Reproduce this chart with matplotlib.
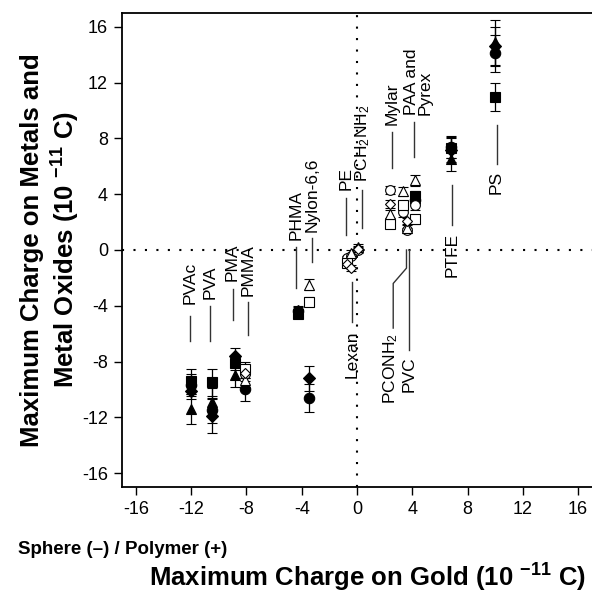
import numpy as np
import matplotlib
matplotlib.use('Agg')
import matplotlib.pyplot as plt

plt.rcParams['font.family'] = ['Liberation Sans', 'DejaVu Sans']
plt.rcParams['mathtext.fontset'] = 'custom'
plt.rcParams['mathtext.rm'] = 'Liberation Sans'
plt.rcParams['mathtext.it'] = 'Liberation Sans:italic'
plt.rcParams['mathtext.bf'] = 'Liberation Sans:bold'
plt.rcParams['axes.unicode_minus'] = False

nan = np.nan

# polymers and the charge measured on the gold sphere (10^-11 C)
polymers = ['PVAc', 'PVA', 'PMA', 'PMMA', 'PHMA', 'Nylon-6,6', 'Lexan', 'PE',
            'PCH2NH2', 'Mylar', 'PCONH2', 'PVC', 'PAA and Pyrex', 'PTFE', 'PS']
gold_charge = [-12.0, -10.5, -8.8, -8.1, -4.3, -3.5, -0.7, -0.4,
               0.1, 2.4, 3.3, 3.6, 4.2, 6.8, 10.0]

# charge on the other spheres, one list per sphere material
filled_circle = [-9.7, -11.5, nan, -10.0, -4.4, -10.6, nan, nan,
                 nan, nan, nan, nan, 3.6, 7.4, 14.1]
filled_circle_err = [0.8, 0.9, 0, 0.8, 0.3, 1.0, 0, 0, 0, 0, 0, 0, 0.3, 0.8, 1.3]
filled_square = [-9.4, -9.5, -8.1, nan, -4.6, nan, nan, nan,
                 nan, nan, nan, nan, 3.9, 7.3, 11.0]
filled_square_err = [0.9, 1.0, 0.5, 0, 0.3, 0, 0, 0, 0, 0, 0, 0, 0.3, 0.7, 1.0]
filled_triangle = [-11.4, -10.9, -9.0, nan, -4.3, nan, nan, nan,
                   nan, nan, nan, nan, 3.7, 6.5, 14.9]
filled_triangle_err = [1.1, 1.0, 0.8, 0, 0.3, 0, 0, 0, 0, 0, 0, 0, 0.3, 0.8, 1.6]
filled_diamond = [-10.1, -11.9, -7.6, nan, nan, -9.2, nan, nan,
                  nan, nan, nan, nan, nan, 7.2, 14.6]
filled_diamond_err = [0.6, 1.2, 0.6, 0, 0, 0.9, 0, 0, 0, 0, 0, 0, 0, 0.9, 1.4]
open_circle = [nan, nan, nan, -8.9, nan, nan, -0.6, -0.4,
               0.0, 4.3, 2.7, 1.4, 3.2, nan, nan]
open_circle_err = [0, 0, 0, 0.5, 0, 0, 0.2, 0.2, 0.2, 0.3, 0.3, 0.2, 0.3, 0, 0]
open_square = [nan, nan, nan, -8.5, nan, -3.7, -0.9, nan,
               nan, 1.9, 3.2, nan, 2.2, nan, nan]
open_square_err = [0, 0, 0, 0.5, 0, 0.3, 0.2, 0, 0, 0.3, 0.3, 0, 0.3, 0, 0]
open_triangle = [nan, nan, nan, -9.3, nan, -2.5, nan, -0.2,
                 0.2, 2.6, 4.2, 1.6, 5.0, nan, nan]
open_triangle_err = [0, 0, 0, 0.5, 0, 0.4, 0, 0.2, 0.2, 0.3, 0.3, 0.2, 0.4, 0, 0]
open_diamond = [nan, nan, nan, -8.8, nan, nan, -1.0, -1.3,
                0.1, 3.3, nan, 2.1, nan, nan, nan]
open_diamond_err = [0, 0, 0, 0.4, 0, 0, 0.2, 0.2, 0.2, 0.3, 0, 0.2, 0, 0, 0]

ticks = [-16, -12, -8, -4, 0, 4, 8, 12, 16]

fig = plt.figure(figsize=(5.92, 5.96), dpi=100)
ax = fig.add_axes([122/592, 1 - 487/596, 470/592, 474/596])

# dotted zero lines
ax.axhline(0, color='black', lw=1.5, ls=(0, (1, 4.5)), zorder=1)
ax.axvline(0, color='black', lw=1.5, ls=(0, (1, 4.5)), zorder=1)

series = [
    (filled_circle, filled_circle_err, 'o', 7.5, 'black'),
    (filled_square, filled_square_err, 's', 7, 'black'),
    (filled_triangle, filled_triangle_err, '^', 7.5, 'black'),
    (filled_diamond, filled_diamond_err, 'D', 6, 'black'),
    (open_circle, open_circle_err, 'o', 7, 'white'),
    (open_square, open_square_err, 's', 6.5, 'white'),
    (open_triangle, open_triangle_err, '^', 7.5, 'white'),
    (open_diamond, open_diamond_err, 'D', 5.5, 'white'),
]
for vals, errs, mk, ms, face in series:
    ax.errorbar(gold_charge, vals, yerr=errs, fmt=mk, ms=ms, mfc=face,
                mec='black', mew=0.8, ecolor='black', elinewidth=0.9,
                capsize=3.5, capthick=0.9, zorder=3)

# polymer labels: text, line x, line y0, line y1, text y, text above/below
labels = [
    ('PVAc', -12.07, -4.7, -6.5, -3.9, 'above'),
    ('PVA', -10.6, -4.0, -6.5, -3.5, 'above'),
    ('PMA', -9.0, -2.8, -5.0, -2.2, 'above'),
    ('PMMA', -7.9, -3.7, -6.1, -3.3, 'above'),
    ('PHMA', -4.4, 0.2, -2.7, 0.7, 'above'),
    ('Nylon-6,6', -3.25, 0.85, -0.85, 1.3, 'above'),
    ('PE', -0.78, 3.7, 1.1, 4.3, 'above'),
    ('PCH$_2$NH$_2$', 0.38, 4.3, 1.6, 4.9, 'above'),
    ('Mylar', 2.55, 8.5, 5.9, 9.0, 'above'),
    ('PAA and\nPyrex', 4.15, 9.2, 6.7, 9.7, 'above'),
    ('Lexan', -0.35, -2.3, -5.2, -5.8, 'below'),
    ('PVC', 3.78, 0.0, -7.2, -7.6, 'below'),
    ('PTFE', 6.9, 4.65, 1.8, 1.2, 'below'),
    ('PS', 10.1, 9.0, 6.2, 5.7, 'below'),
]
for text, lx, y0, y1, ty, side in labels:
    ax.plot([lx, lx], [y0, y1], color='#333333', lw=1.0, zorder=2)
    tx = lx + (0.3 if '\n' in text else 0)
    ax.text(tx, ty, text, rotation=90, fontsize=12.5, ha='center',
            va='bottom' if side == 'above' else 'top', multialignment='left',
            linespacing=0.85)

# PCONH2 label with its bent leader line
ax.plot([3.58, 3.58, 2.62, 2.62], [0.0, -1.3, -2.4, -5.6],
        color='#333333', lw=1.0, zorder=2)
ax.text(2.4, -5.95, 'PCONH$_2$', rotation=90, fontsize=12.5, ha='center', va='top')

ax.set_xlim(-17, 17)
ax.set_ylim(-17, 17)
ax.set_xticks(ticks)
ax.set_yticks(ticks)
ax.spines['right'].set_visible(False)
for s in ['left', 'bottom', 'top']:
    ax.spines[s].set_linewidth(1.3)
ax.tick_params(direction='out', length=6, width=1, labelsize=13, pad=4)

fig.text(18/592, 1 - 549/596, 'Sphere (\u2013) / Polymer (+)',
         fontsize=13.5, fontweight='bold', ha='left', va='center')
fig.text(368/592, 1 - 578/596, 'Maximum Charge on Gold (10 $^{\\mathbf{-11}}$ C)',
         fontsize=18.5, fontweight='bold', ha='center', va='center')
fig.text(51/592, 1 - 250/596,
         'Maximum Charge on Metals and\nMetal Oxides (10 $^{\\mathbf{-11}}$ C)',
         fontsize=18.5, fontweight='bold', ha='center', va='center',
         rotation=90, multialignment='center', linespacing=1.25)

fig.savefig('out.png', dpi=100)
